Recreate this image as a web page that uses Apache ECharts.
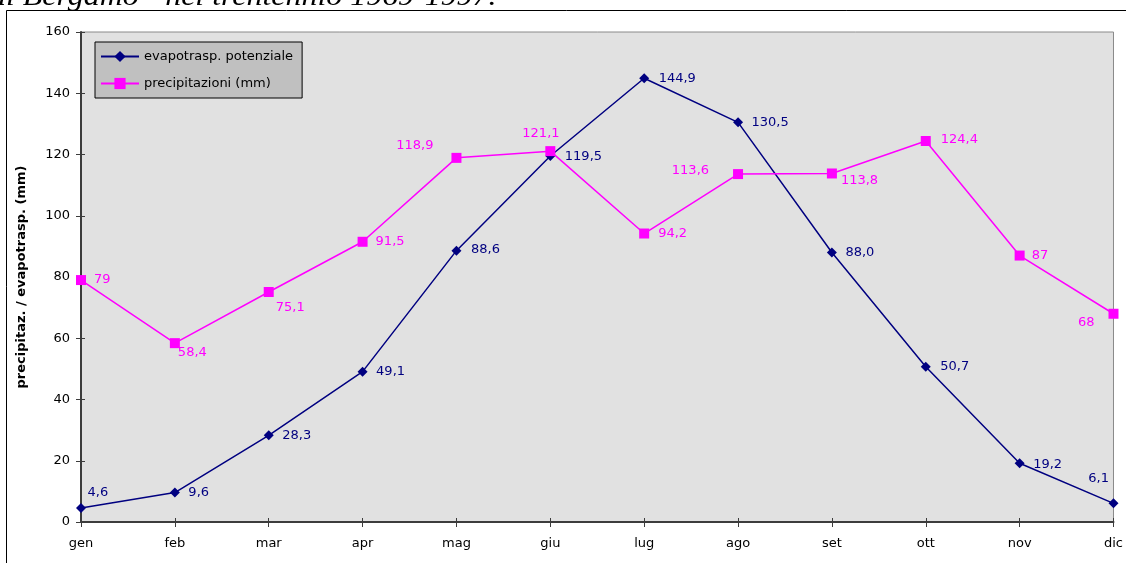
<!DOCTYPE html>
<html>
<head>
<meta charset="utf-8">
<script src="https://cdn.jsdelivr.net/npm/echarts@6/dist/echarts.min.js"></script>
<style>
html,body{margin:0;padding:0;background:#fff;}
#c{width:1126px;height:563px;}
</style>
</head>
<body>
<div id="c"></div>
<script>
// ---- data ----
var months = ['gen','feb','mar','apr','mag','giu','lug','ago','set','ott','nov','dic'];
var evapo = [4.6, 9.6, 28.3, 49.1, 88.6, 119.5, 144.9, 130.5, 88.0, 50.7, 19.2, 6.1];
var precip = [79, 58.4, 75.1, 91.5, 118.9, 121.1, 94.2, 113.6, 113.8, 124.4, 87, 68];
var evapoName = 'evapotrasp. potenziale';
var precipName = 'precipitazioni (mm)';
var yAxisName = 'precipitaz. / evapotrasp. (mm)';
var titleText = 'di Bergamo - nel trentennio 1969-1997.';

// ---- label placement (style): [dx, dy, side]; side 'r' => dx is label left edge, 'l' => label right edge
var evapoLabelPlace = [[6,-15,'r'],[13,0,'r'],[13,0,'r'],[13,0,'r'],[14,-1,'r'],[14,1,'r'],[14,0,'r'],[13,0,'r'],[13,0,'r'],[14,0,'r'],[13,1,'r'],[-4,-25,'l']];
var precipLabelPlace = [[13,0,'r'],[3,9,'r'],[7,16,'r'],[13,0,'r'],[-23,-12,'l'],[-28,-18,'r'],[14,0,'r'],[-29,-3,'l'],[9,7,'r'],[15,-1,'r'],[12,0,'r'],[-19,9,'l']];

var FONT = 'DejaVu Sans';
var NAVY = '#000080', MAG = '#FF00FF';

function buildData(vals, places, half, fmt) {
  return vals.map(function (v, i) {
    var p = places[i];
    var lab = p[2] === 'r'
      ? { position: 'right', distance: 0, offset: [p[0] - half, p[1]] }
      : { position: 'left', distance: 0, offset: [p[0] + half, p[1]] };
    lab.formatter = fmt(v);
    return { value: v, label: lab };
  });
}
function fmtFixed(v) { return v.toFixed(1).replace('.', ','); }
function fmtPlain(v) { return String(v).replace('.', ','); }

var chart = echarts.init(document.getElementById('c'), null, { renderer: 'canvas' });
chart.setOption({
  backgroundColor: '#ffffff',
  animation: false,
  textStyle: { fontFamily: FONT },
  graphic: [
    { type: 'text', x: -10, y: -16, scaleX: 1.14, z: 10,
      style: { text: titleText, font: 'italic 28px "Liberation Serif"', fill: '#000' } },
    { type: 'line', shape: { x1: 6.5, y1: 10.5, x2: 6.5, y2: 563 }, style: { stroke: '#000', lineWidth: 1 } },
    { type: 'line', shape: { x1: 6.5, y1: 10.5, x2: 1126, y2: 10.5 }, style: { stroke: '#000', lineWidth: 1 } }
  ],
  grid: { left: 81, top: 32, right: 10, bottom: 41, show: true,
          backgroundColor: '#e1e1e1', borderColor: '#8a8a8a', borderWidth: 1 },
  legend: {
    orient: 'vertical', left: 95, top: 42,
    backgroundColor: '#c0c0c0', borderColor: '#000', borderWidth: 1,
    padding: [8, 9, 8, 5], itemWidth: 38, itemHeight: 14, itemGap: 14,
    textStyle: { fontFamily: FONT, fontSize: 13, color: '#000' },
    data: [evapoName, precipName]
  },
  xAxis: [{
    type: 'category', data: months, boundaryGap: false,
    axisLine: { lineStyle: { color: '#3c3c3c', width: 2 } },
    axisTick: { show: true, length: 5, lineStyle: { color: '#3c3c3c', width: 1 } },
    axisLabel: { fontFamily: FONT, fontSize: 13, color: '#000', margin: 15, interval: 0 },
    splitLine: { show: false }
  }, {
    type: 'category', data: months, boundaryGap: false, position: 'bottom',
    axisLine: { show: false },
    axisTick: { show: true, inside: true, length: 4, lineStyle: { color: '#3c3c3c', width: 1 } },
    axisLabel: { show: false }, splitLine: { show: false }
  }],
  yAxis: [{
    type: 'value', min: 0, max: 160, interval: 20,
    name: yAxisName, nameLocation: 'middle', nameGap: 53, nameRotate: 90,
    nameTextStyle: { fontFamily: FONT, fontSize: 13, fontWeight: 'bold', color: '#000' },
    axisLine: { show: true, lineStyle: { color: '#3c3c3c', width: 2 } },
    axisTick: { show: true, length: 5, lineStyle: { color: '#3c3c3c', width: 1 } },
    axisLabel: { fontFamily: FONT, fontSize: 13, color: '#000', margin: 11 },
    splitLine: { show: false }
  }, {
    type: 'value', min: 0, max: 160, interval: 20, position: 'left',
    axisLine: { show: false },
    axisTick: { show: true, inside: true, length: 4, lineStyle: { color: '#3c3c3c', width: 1 } },
    axisLabel: { show: false }, splitLine: { show: false }
  }],
  series: [{
    name: evapoName, type: 'line', xAxisIndex: 0, yAxisIndex: 0,
    data: buildData(evapo, evapoLabelPlace, 4.5, fmtFixed),
    symbol: 'diamond', symbolSize: 10, showAllSymbol: true,
    lineStyle: { color: NAVY, width: 1.5 }, itemStyle: { color: NAVY },
    label: { show: true, color: NAVY, fontFamily: FONT, fontSize: 13 },
    emphasis: { disabled: true }, z: 3
  }, {
    name: precipName, type: 'line', xAxisIndex: 0, yAxisIndex: 0,
    data: buildData(precip, precipLabelPlace, 5, fmtPlain),
    symbol: 'rect', symbolSize: 10, showAllSymbol: true,
    lineStyle: { color: MAG, width: 1.5 }, itemStyle: { color: MAG },
    label: { show: true, color: MAG, fontFamily: FONT, fontSize: 13 },
    emphasis: { disabled: true }, z: 4
  }]
});
</script>
</body>
</html>
